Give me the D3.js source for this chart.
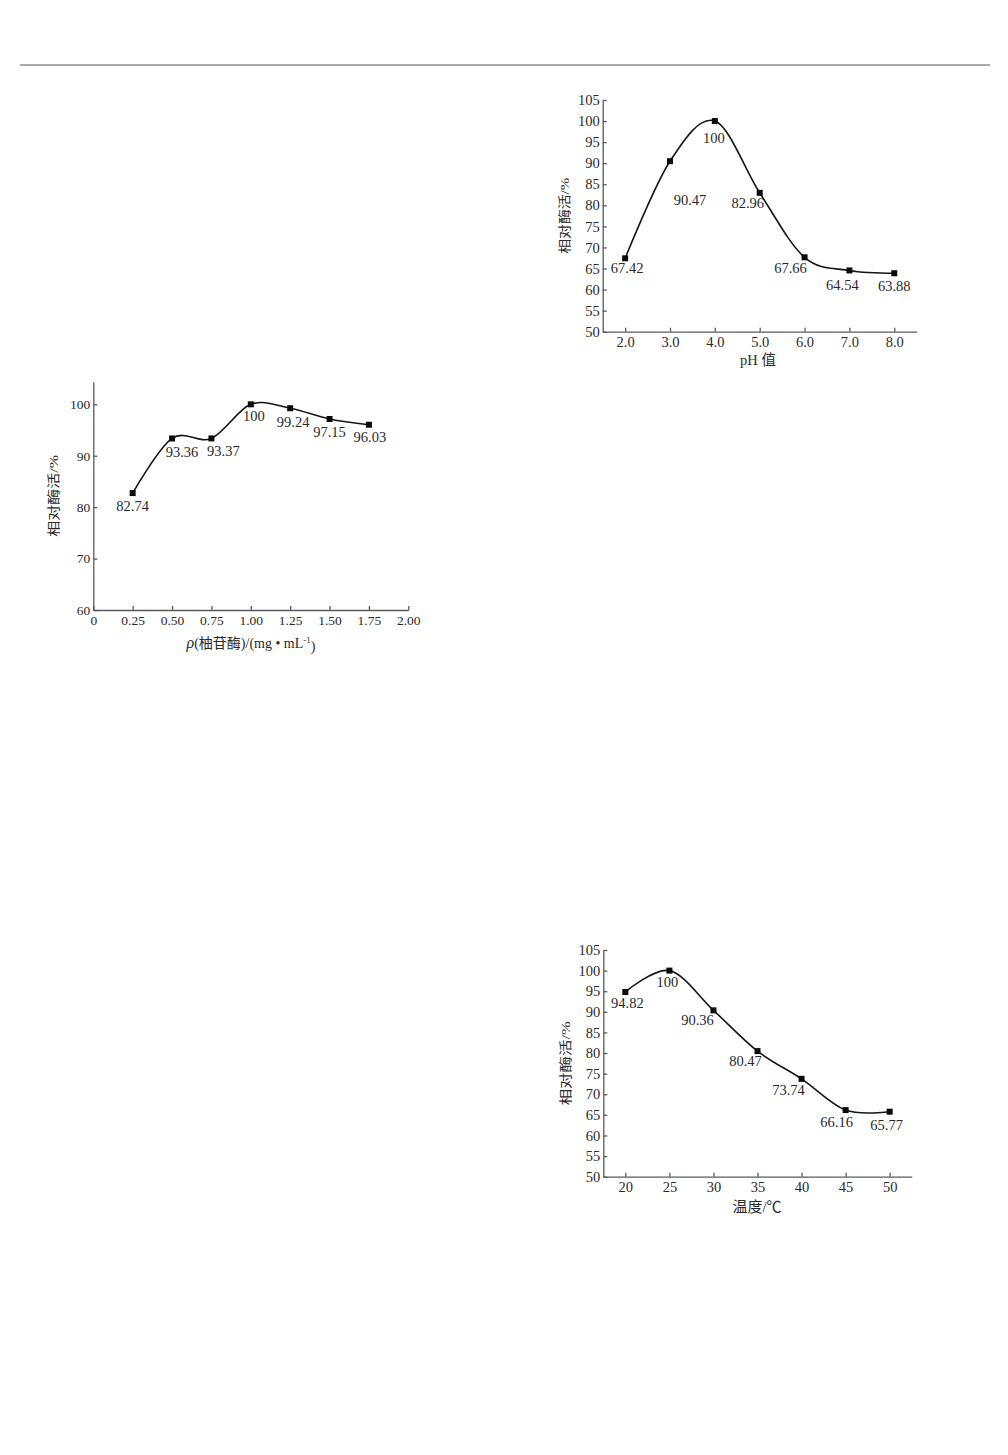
<!DOCTYPE html>
<html lang="zh">
<head>
<meta charset="UTF-8">
<title>相对酶活</title>
<script src="https://d3js.org/d3.v7.min.js"></script>
<style>
  body { margin: 0; background: #fff; }
  text { font-family: "Liberation Serif", "Noto Sans CJK SC", serif; fill: #2a2a2a; }
  .axis path, .axis line { stroke: #5a5a5a; stroke-width: 1.3px; }
</style>
</head>
<body>
<svg width="1008" height="1455"></svg>
<script>
// pH chart
const phX = [2, 3, 4, 5, 6, 7, 8];
const phY = [67.42, 90.47, 100, 82.96, 67.66, 64.54, 63.88];
const phXTicks = [2, 3, 4, 5, 6, 7, 8];
const phYTicks = [50, 55, 60, 65, 70, 75, 80, 85, 90, 95, 100, 105];

// enzyme concentration chart
const concX = [0.25, 0.5, 0.75, 1.0, 1.25, 1.5, 1.75];
const concY = [82.74, 93.36, 93.37, 100, 99.24, 97.15, 96.03];
const concXTicks = [0, 0.25, 0.5, 0.75, 1.0, 1.25, 1.5, 1.75, 2.0];
const concYTicks = [60, 70, 80, 90, 100];

// temperature chart
const tempX = [20, 25, 30, 35, 40, 45, 50];
const tempY = [94.82, 100, 90.36, 80.47, 73.74, 66.16, 65.77];
const tempXTicks = [20, 25, 30, 35, 40, 45, 50];
const tempYTicks = [50, 55, 60, 65, 70, 75, 80, 85, 90, 95, 100, 105];

const yTitle = "相对酶活/%";

const svg = d3.select("svg");

// top rule
svg.append("line")
  .attr("x1", 20).attr("x2", 990).attr("y1", 65).attr("y2", 65)
  .attr("stroke", "#8e8e8e").attr("stroke-width", 1.6);

function drawPanel(p) {
  const x = d3.scaleLinear().domain(p.xDomain).range(p.xRange);
  const y = d3.scaleLinear().domain(p.yDomain).range(p.yRange);
  const g = svg.append("g");

  g.append("g").attr("class", "axis")
    .attr("transform", `translate(0,${p.yRange[0]})`)
    .call(d3.axisBottom(x).tickValues(p.xTicks).tickFormat(p.xFmt)
      .tickSizeInner(-4).tickSizeOuter(0).tickPadding(5))
    .call(a => a.selectAll("text").attr("fill", "#2a2a2a").attr("font-size", p.tickSize));

  g.append("g").attr("class", "axis")
    .attr("transform", `translate(${p.xRange[0]},0)`)
    .call(d3.axisLeft(y).tickValues(p.yTicks).tickFormat(d3.format("d"))
      .tickSizeInner(-4).tickSizeOuter(0).tickPadding(3))
    .call(a => a.selectAll("text").attr("fill", "#2a2a2a").attr("font-size", p.tickSize));

  const pts = p.xs.map((v, i) => [v, p.ys[i]]);

  g.append("path")
    .datum(pts)
    .attr("fill", "none")
    .attr("stroke", "#151515")
    .attr("stroke-width", 1.6)
    .attr("d", d3.line().x(d => x(d[0])).y(d => y(d[1])).curve(d3.curveCardinal.tension(0)));

  g.selectAll("rect.m").data(pts).join("rect")
    .attr("x", d => x(d[0]) - 3).attr("y", d => y(d[1]) - 3)
    .attr("width", 6).attr("height", 6).attr("fill", "#0a0a0a");

  g.selectAll("text.lab").data(pts).join("text")
    .attr("class", "lab")
    .attr("x", (d, i) => x(d[0]) + p.labOff[i][0])
    .attr("y", (d, i) => y(d[1]) + p.labOff[i][1])
    .attr("dy", "0.35em")
    .attr("text-anchor", "middle")
    .attr("font-size", 14.5)
    .text(d => d[1]);

  // y title
  const ty = (p.yRange[0] + p.yRange[1]) / 2;
  g.append("text")
    .attr("transform", `translate(${p.xRange[0] - p.yTitleGap},${ty}) rotate(-90)`)
    .attr("text-anchor", "middle")
    .attr("dy", "0.35em")
    .attr("font-size", 13)
    .attr("textLength", p.yTitleLen)
    .attr("lengthAdjust", "spacingAndGlyphs")
    .text(yTitle);

  // x title
  const xt = g.append("text")
    .attr("x", p.xTitleX).attr("y", p.yRange[0] + p.xTitleGap)
    .attr("dy", "0.35em")
    .attr("text-anchor", "middle")
    .attr("font-size", p.xTitleSize);
  p.xTitle(xt);
}

drawPanel({
  xs: phX, ys: phY, xTicks: phXTicks, yTicks: phYTicks,
  xDomain: [1.5, 8.5], yDomain: [50, 105],
  xRange: [602.7, 916.7], yRange: [331.7, 100],
  xFmt: d3.format(".1f"), tickSize: 14.5,
  labOff: [[2, 10], [20, 39], [-1, 17], [-12, 10], [-14, 11], [-7, 14], [0, 13]],
  yTitleGap: 38, yTitleLen: 76, xTitleX: 758, xTitleGap: 28, xTitleSize: 14.5,
  xTitle: t => t.text("pH 值")
});

drawPanel({
  xs: concX, ys: concY, xTicks: concXTicks, yTicks: concYTicks,
  xDomain: [0, 2], yDomain: [60, 104.4],
  xRange: [93.3, 408.3], yRange: [610, 381.7],
  xFmt: d => d === 0 ? "0" : d3.format(".2f")(d), tickSize: 13.5,
  labOff: [[0, 13], [10, 13], [12, 13], [3, 12], [3, 14], [0, 13], [1, 12]],
  yTitleGap: 40, yTitleLen: 82, xTitleX: 251, xTitleGap: 33, xTitleSize: 14,
  xTitle: t => {
    t.append("tspan").attr("font-style", "italic").attr("font-size", 16).text("ρ");
    t.append("tspan").text("(柚苷酶)/(mg • mL");
    t.append("tspan").attr("font-size", 9).attr("dy", "-0.6em").text("-1");
    t.append("tspan").attr("dy", "0.6em").text(")");
  }
});

drawPanel({
  xs: tempX, ys: tempY, xTicks: tempXTicks, yTicks: tempYTicks,
  xDomain: [17.5, 52.5], yDomain: [50, 105],
  xRange: [603.3, 911.7], yRange: [1176.7, 950],
  xFmt: d3.format("d"), tickSize: 14.5,
  labOff: [[2, 11], [-2, 11], [-16, 10], [-12, 10], [-13, 11], [-9, 12], [-3, 13]],
  yTitleGap: 38, yTitleLen: 84, xTitleX: 757, xTitleGap: 30, xTitleSize: 15,
  xTitle: t => t.text("温度/℃")
});
</script>
</body>
</html>
